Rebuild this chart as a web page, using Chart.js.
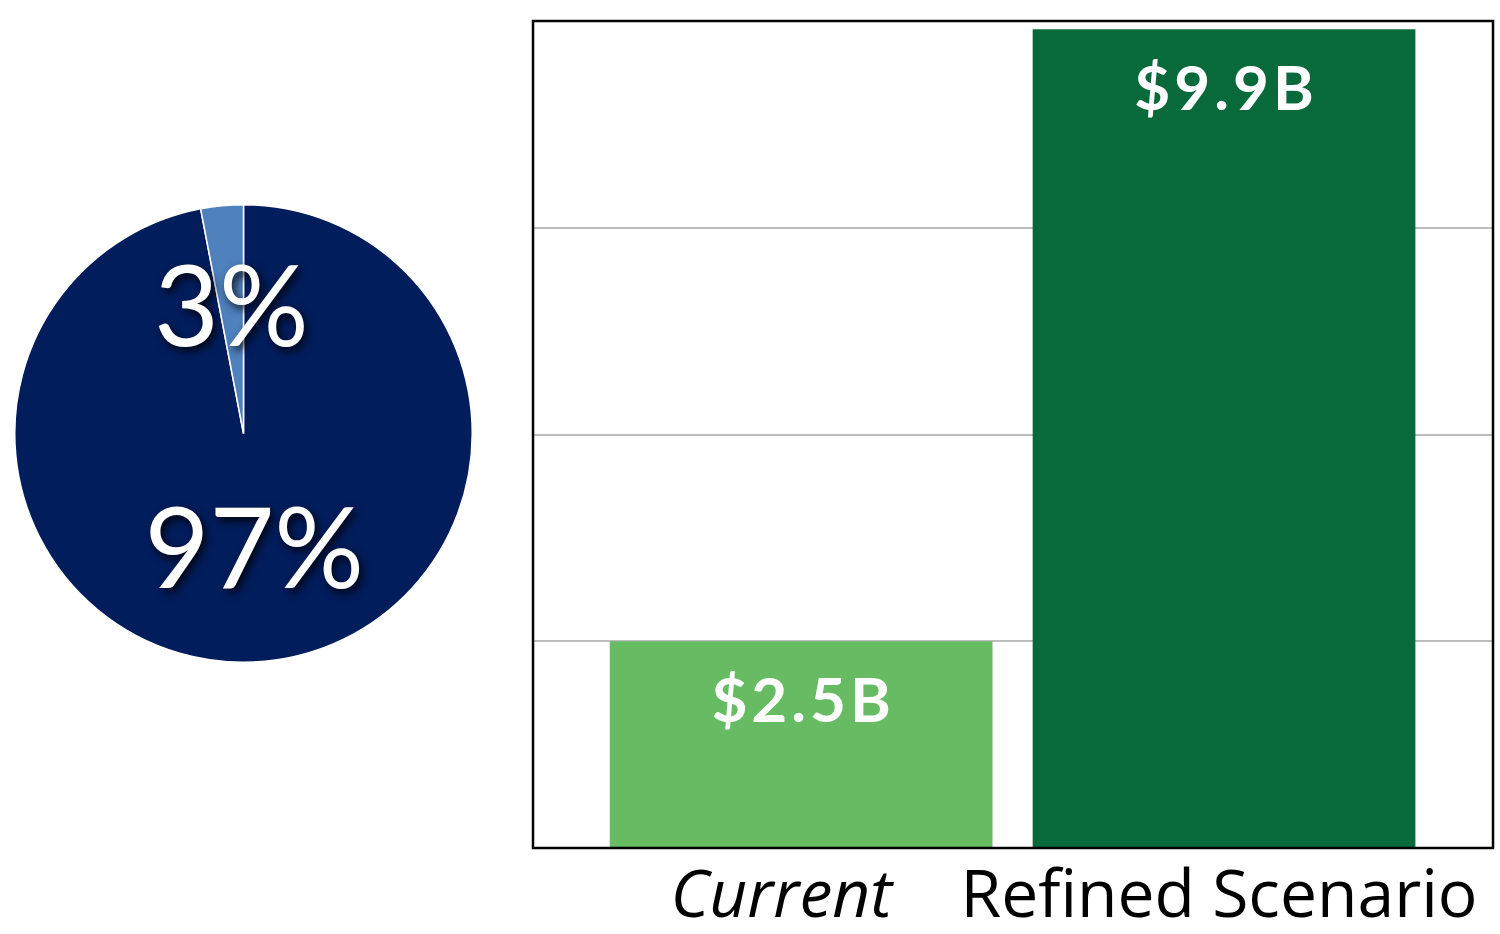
<!DOCTYPE html>
<html>
<head>
<meta charset="utf-8">
<script src="https://cdn.jsdelivr.net/npm/chart.js@4.4.1/dist/chart.umd.min.js"></script>
<style>
  html, body { margin: 0; padding: 0; background: #ffffff; }
  body { width: 1500px; height: 934px; position: relative; overflow: hidden; }
  #pie { position: absolute; left: 14px; top: 204px; }
  #bars { position: absolute; left: 500px; top: 0px; }
</style>
</head>
<body>
<canvas id="pie" width="459" height="459"></canvas>
<canvas id="bars" width="1000" height="934"></canvas>
<script>
// Share split (percent)
const shareLabels = ['Other', 'Share'];
const shareValues = [97, 3];
const shareColors = ['#021d5c', '#4f81bd'];

// Value comparison (billions of dollars)
const categories = ['Current', 'Refined Scenario'];
const values = [2.5, 9.9];
const barColors = ['#66bb63', '#08693a'];
const yTicks = [0, 2.5, 5, 7.5, 10];

const FONT = 'Lato, "Open Sans", sans-serif';
const AXIS_FONT = '"Open Sans", Lato, sans-serif';

// Percent labels inside the pie, with a soft drop shadow
const pieLabels = {
  id: 'pieLabels',
  afterDatasetsDraw(chart) {
    const ctx = chart.ctx;
    const meta = chart.getDatasetMeta(0);
    const radial = [0.5, 0.56];
    const size = 112;
    ctx.save();
    ctx.font = `400 ${size}px ${FONT}`;
    ctx.fillStyle = '#ffffff';
    ctx.textAlign = 'center';
    ctx.textBaseline = 'alphabetic';
    ctx.shadowColor = 'rgba(0,0,0,0.85)';
    ctx.shadowBlur = 9;
    ctx.shadowOffsetX = 3;
    ctx.shadowOffsetY = 4;
    meta.data.forEach((arc, i) => {
      const p = arc.getProps(['x', 'y', 'startAngle', 'endAngle', 'outerRadius'], true);
      const mid = (p.startAngle + p.endAngle) / 2;
      const r = p.outerRadius * radial[i];
      const cx = p.x + Math.cos(mid) * r;
      const cy = p.y + Math.sin(mid) * r;
      ctx.fillText(shareValues[i] + '%', cx, cy + size * 0.36);
    });
    ctx.restore();
  }
};

// Value labels near the top of each bar
const barLabels = {
  id: 'barLabels',
  afterDatasetsDraw(chart) {
    const ctx = chart.ctx;
    const meta = chart.getDatasetMeta(0);
    const size = 62;
    ctx.save();
    ctx.font = `700 ${size}px ${FONT}`;
    ctx.letterSpacing = '4px';
    ctx.fillStyle = '#ffffff';
    ctx.textAlign = 'center';
    ctx.textBaseline = 'alphabetic';
    meta.data.forEach((bar, i) => {
      const p = bar.getProps(['x', 'y'], true);
      ctx.fillText('$' + values[i].toFixed(1) + 'B', p.x + 2, p.y + 58 + size * 0.36);
    });
    ctx.restore();
  }
};

// Black frame around the plot area
const plotFrame = {
  id: 'plotFrame',
  afterDraw(chart) {
    const { ctx, chartArea: a } = chart;
    ctx.save();
    ctx.strokeStyle = '#000000';
    ctx.lineWidth = 2.5;
    ctx.strokeRect(a.left, a.top, a.right - a.left, a.bottom - a.top);
    ctx.restore();
  }
};

function build() {
  new Chart(document.getElementById('pie'), {
    type: 'pie',
    data: {
      labels: shareLabels,
      datasets: [{
        data: shareValues,
        backgroundColor: shareColors,
        borderColor: '#ffffff',
        borderWidth: 1.5
      }]
    },
    options: {
      responsive: false,
      animation: false,
      layout: { padding: 0 },
      plugins: { legend: { display: false }, tooltip: { enabled: false } }
    },
    plugins: [pieLabels]
  });

  const labelNudge = [-0.047, -0.012];

  new Chart(document.getElementById('bars'), {
    type: 'bar',
    data: {
      datasets: [{
        data: values.map((v, i) => ({ x: i, y: v })),
        backgroundColor: barColors,
        borderWidth: 0,
        categoryPercentage: 1,
        barPercentage: 0.905
      }]
    },
    options: {
      responsive: false,
      animation: false,
      layout: { padding: { left: 33, right: 7, top: 21, bottom: 0 } },
      plugins: { legend: { display: false }, tooltip: { enabled: false } },
      scales: {
        x: {
          type: 'linear',
          offset: false,
          min: -0.634,
          max: 1.636,
          grid: { display: false, drawTicks: false, offset: false },
          border: { display: false },
          afterBuildTicks(scale) {
            scale.ticks = categories.map((c, i) => ({ value: i + labelNudge[i] }));
          },
          afterFit(scale) { scale.height = 86; },
          ticks: {
            autoSkip: false,
            maxRotation: 0,
            padding: 11,
            color: '#000000',
            font: (ctx) => ({ family: AXIS_FONT, size: 66, style: ctx.index === 0 ? 'italic' : 'normal', weight: '400' }),
            callback: (value, index) => categories[index]
          }
        },
        y: {
          min: yTicks[0],
          max: yTicks[yTicks.length - 1],
          afterBuildTicks(scale) {
            scale.ticks = yTicks.map(v => ({ value: v }));
          },
          afterFit(scale) { scale.width = 0; },
          ticks: { display: false },
          border: { display: false },
          grid: {
            drawTicks: false,
            lineWidth: 2,
            color: (ctx) => (ctx.tick && (ctx.tick.value === 0 || ctx.tick.value === 10)) ? 'rgba(0,0,0,0)' : '#bdbdbd'
          }
        }
      }
    },
    plugins: [barLabels, plotFrame]
  });
}

const fontLoads = [
  '400 112px Lato', '700 62px Lato', 'italic 400 66px "Open Sans"', '400 66px "Open Sans"'
].map(f => document.fonts.load(f).catch(() => null));
Promise.all(fontLoads).then(build, build);
</script>
</body>
</html>
